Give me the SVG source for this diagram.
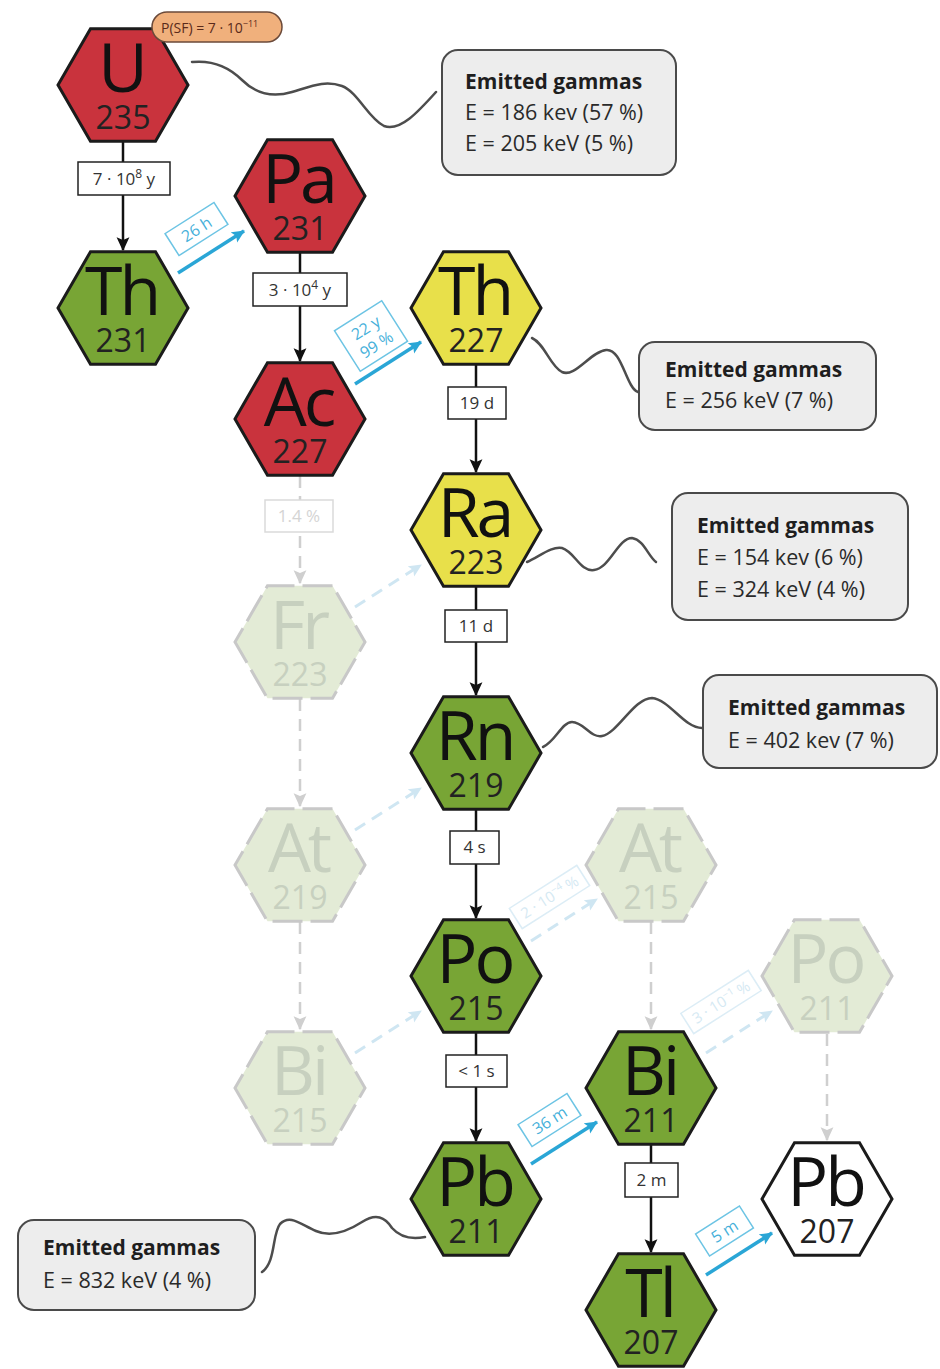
<svg xmlns="http://www.w3.org/2000/svg" xmlns:xlink="http://www.w3.org/1999/xlink" width="940" height="1369" viewBox="0 0 940 1369">
  <style>
    text { font-family: "Open Sans", "Noto Sans", "Liberation Sans", sans-serif; }
    .hex { stroke: #1b1b1b; stroke-width: 3; stroke-linejoin: miter; }
    .red .hex { fill: #c9333d; }
    .green .hex { fill: #78a535; }
    .yellow .hex { fill: #e8e04a; }
    .white .hex { fill: #ffffff; }
    .faded .hex { fill: #e3ebd6; stroke: #c8c8c8; stroke-dasharray: 30 8; stroke-dashoffset: 14; }
    .lbl { text-anchor: middle; }
    .sym { font-size: 68px; fill: #111; letter-spacing: -3px; }
    .mass { font-size: 32px; fill: #222; letter-spacing: 0; }
    .faded .sym, .faded .mass { fill: #c7d0bf; }
    .decay { stroke: #111; stroke-width: 2.5; fill: none; }
    .decay-faded { stroke: #cfcfcf; stroke-width: 2.5; fill: none; stroke-dasharray: 12 8; }
    .beta { stroke: #2aa6d6; stroke-width: 3.5; fill: none; }
    .beta-faded { stroke: #cfe6f2; stroke-width: 3; fill: none; stroke-dasharray: 12 8; }
    .tbox { fill: #fff; stroke: #222; stroke-width: 1.5; }
    .tbox-faded { fill: #fff; stroke: #dadada; stroke-width: 1.5; }
    .ttext { font-size: 17px; text-anchor: middle; fill: #333; }
    .ttext-faded { font-size: 17px; text-anchor: middle; fill: #d4d4d4; }
    .bbox { fill: #fff; stroke: #6cc4e4; stroke-width: 1.5; }
    .bbox-faded { fill: #fff; stroke: #dcedf6; stroke-width: 1.5; }
    .btext { font-size: 16px; text-anchor: middle; fill: #45b0da; }
    .btext-faded { font-size: 15px; text-anchor: middle; fill: #d5e9f3; }
    .gbox { fill: #ededed; stroke: #4a4a4a; stroke-width: 2; }
    .ghead { font-size: 21px; font-weight: bold; fill: #1e1e1e; }
    .gline { font-size: 21.5px; fill: #2a2a2a; }
    .wave { stroke: #4d4d4d; stroke-width: 2.5; fill: none; stroke-linecap: round; }
  </style>
  <defs>
    <polygon id="hex" points="-65,0 -32.5,-56.3 32.5,-56.3 65,0 32.5,56.3 -32.5,56.3"/>
    <marker id="ah" viewBox="0 0 12 12" refX="11" refY="6" markerWidth="14" markerHeight="14" markerUnits="userSpaceOnUse" orient="auto">
      <path d="M0,0.5 L12,6 L0,11.5 L2.5,6 z" fill="#111"/>
    </marker>
    <marker id="ah-faded" viewBox="0 0 12 12" refX="11" refY="6" markerWidth="14" markerHeight="14" markerUnits="userSpaceOnUse" orient="auto">
      <path d="M0,0.5 L12,6 L0,11.5 L2.5,6 z" fill="#cfcfcf"/>
    </marker>
    <marker id="ah-blue" viewBox="0 0 12 12" refX="11" refY="6" markerWidth="13" markerHeight="13" markerUnits="userSpaceOnUse" orient="auto">
      <path d="M0,0.5 L12,6 L0,11.5 L2.5,6 z" fill="#2aa6d6"/>
    </marker>
    <marker id="ah-blue-faded" viewBox="0 0 12 12" refX="11" refY="6" markerWidth="13" markerHeight="13" markerUnits="userSpaceOnUse" orient="auto">
      <path d="M0,0.5 L12,6 L0,11.5 L2.5,6 z" fill="#cfe6f2"/>
    </marker>
  </defs>

  <rect width="940" height="1369" fill="#ffffff"/>

  <!-- gamma emission squiggles and boxes -->
  <g id="gammas">
    <path class="wave" d="M192,62 C212,60 228,66 242,80 C256,94 272,98 292,92 C312,86 325,80 342,86 C358,92 368,118 384,126 C400,132 418,112 436,92"/>
    <path class="wave" d="M532,338 C545,344 550,366 562,372 C575,378 590,352 606,350 C622,348 626,388 638,392"/>
    <path class="wave" d="M527,562 C540,556 552,546 562,548 C575,552 580,572 594,570 C610,568 618,538 632,538 C644,540 648,556 656,562"/>
    <path class="wave" d="M543,747 C555,742 562,722 572,722 C584,722 590,738 602,736 C618,733 634,698 652,698 C670,700 684,728 702,728"/>
    <path class="wave" d="M425,1237 C410,1240 400,1237 392,1228 C385,1217 376,1213 362,1222 C348,1231 332,1238 316,1231 C300,1224 290,1214 280,1224 C272,1234 276,1262 262,1272"/>

    <g id="gamma-u235">
      <rect class="gbox" x="442" y="50" width="234" height="125" rx="16"/>
      <text class="ghead" x="465" y="89">Emitted gammas</text>
      <text class="gline" x="465" y="120">E = 186 kev (57 %)</text>
      <text class="gline" x="465" y="151">E = 205 keV (5 %)</text>
    </g>
    <g id="gamma-th227">
      <rect class="gbox" x="639" y="342" width="237" height="88" rx="16"/>
      <text class="ghead" x="665" y="377">Emitted gammas</text>
      <text class="gline" x="665" y="408">E = 256 keV (7 %)</text>
    </g>
    <g id="gamma-ra223">
      <rect class="gbox" x="672" y="493" width="236" height="127" rx="16"/>
      <text class="ghead" x="697" y="533">Emitted gammas</text>
      <text class="gline" x="697" y="565">E = 154 kev (6 %)</text>
      <text class="gline" x="697" y="597">E = 324 keV (4 %)</text>
    </g>
    <g id="gamma-rn219">
      <rect class="gbox" x="703" y="675" width="234" height="93" rx="16"/>
      <text class="ghead" x="728" y="715">Emitted gammas</text>
      <text class="gline" x="728" y="748">E = 402 kev (7 %)</text>
    </g>
    <g id="gamma-pb211">
      <rect class="gbox" x="18" y="1220" width="237" height="90" rx="16"/>
      <text class="ghead" x="43" y="1255">Emitted gammas</text>
      <text class="gline" x="43" y="1288">E = 832 keV (4 %)</text>
    </g>
  </g>

  <!-- decay connectors -->
  <g id="connectors">
    <!-- alpha decays (vertical) -->
    <line class="decay" x1="123" y1="141" x2="123" y2="250" marker-end="url(#ah)"/>
    <line class="decay" x1="300" y1="253" x2="300" y2="361" marker-end="url(#ah)"/>
    <line class="decay" x1="476" y1="364" x2="476" y2="472" marker-end="url(#ah)"/>
    <line class="decay" x1="476" y1="587" x2="476" y2="695" marker-end="url(#ah)"/>
    <line class="decay" x1="476" y1="810" x2="476" y2="918" marker-end="url(#ah)"/>
    <line class="decay" x1="476" y1="1033" x2="476" y2="1141" marker-end="url(#ah)"/>
    <line class="decay" x1="651" y1="1144" x2="651" y2="1252" marker-end="url(#ah)"/>

    <line class="decay-faded" x1="300" y1="476" x2="300" y2="583" marker-end="url(#ah-faded)"/>
    <line class="decay-faded" x1="300" y1="699" x2="300" y2="806" marker-end="url(#ah-faded)"/>
    <line class="decay-faded" x1="300" y1="922" x2="300" y2="1029" marker-end="url(#ah-faded)"/>
    <line class="decay-faded" x1="651" y1="922" x2="651" y2="1029" marker-end="url(#ah-faded)"/>
    <line class="decay-faded" x1="827" y1="1034" x2="827" y2="1140" marker-end="url(#ah-faded)"/>

    <!-- half-life labels -->
    <rect class="tbox" x="78" y="162" width="92" height="33"/>
    <text class="ttext" x="124" y="185">7 · 10<tspan dy="-7" font-size="12">8</tspan><tspan dy="7"> y</tspan></text>
    <rect class="tbox" x="253" y="273" width="94" height="33"/>
    <text class="ttext" x="300" y="296">3 · 10<tspan dy="-7" font-size="12">4</tspan><tspan dy="7"> y</tspan></text>
    <rect class="tbox" x="448" y="387" width="58" height="32"/>
    <text class="ttext" x="477" y="409">19 d</text>
    <rect class="tbox" x="445" y="610" width="62" height="32"/>
    <text class="ttext" x="476" y="632">11 d</text>
    <rect class="tbox" x="450" y="831" width="49" height="33"/>
    <text class="ttext" x="474.5" y="853">4 s</text>
    <rect class="tbox" x="446" y="1055" width="61" height="32"/>
    <text class="ttext" x="476.5" y="1077">&lt; 1 s</text>
    <rect class="tbox" x="625" y="1163" width="53" height="34"/>
    <text class="ttext" x="651.5" y="1186">2 m</text>
    <rect class="tbox-faded" x="265" y="500" width="68" height="32"/>
    <text class="ttext-faded" x="299" y="522">1.4 %</text>

    <!-- beta decays (diagonal) -->
    <line class="beta" x1="178" y1="273" x2="244" y2="231" marker-end="url(#ah-blue)"/>
    <line class="beta" x1="355" y1="384" x2="421" y2="342" marker-end="url(#ah-blue)"/>
    <line class="beta" x1="531" y1="1164" x2="597" y2="1122" marker-end="url(#ah-blue)"/>
    <line class="beta" x1="706" y1="1275" x2="772" y2="1233" marker-end="url(#ah-blue)"/>

    <line class="beta-faded" x1="355" y1="607" x2="421" y2="565" marker-end="url(#ah-blue-faded)"/>
    <line class="beta-faded" x1="355" y1="830" x2="421" y2="788" marker-end="url(#ah-blue-faded)"/>
    <line class="beta-faded" x1="355" y1="1053" x2="421" y2="1011" marker-end="url(#ah-blue-faded)"/>
    <line class="beta-faded" x1="531" y1="941" x2="597" y2="899" marker-end="url(#ah-blue-faded)"/>
    <line class="beta-faded" x1="706" y1="1053" x2="772" y2="1011" marker-end="url(#ah-blue-faded)"/>

    <g transform="translate(196.5,229) rotate(-32.5)">
      <rect class="bbox" x="-29" y="-13" width="58" height="26"/>
      <text class="btext" x="0" y="6">26 h</text>
    </g>
    <g transform="translate(371,336) rotate(-32.5)">
      <rect class="bbox" x="-28" y="-24" width="56" height="48"/>
      <text class="btext"><tspan x="0" y="-4">22 y</tspan><tspan x="0" y="16">99 %</tspan></text>
    </g>
    <g transform="translate(549.5,1120) rotate(-32.5)">
      <rect class="bbox" x="-29" y="-13" width="58" height="26"/>
      <text class="btext" x="0" y="6">36 m</text>
    </g>
    <g transform="translate(724.5,1231) rotate(-32.5)">
      <rect class="bbox" x="-26" y="-13" width="52" height="26"/>
      <text class="btext" x="0" y="6">5 m</text>
    </g>
    <g transform="translate(549.5,897) rotate(-32.5)">
      <rect class="bbox-faded" x="-40" y="-12" width="80" height="24"/>
      <text class="btext-faded" x="0" y="5.5">2 · 10<tspan dy="-6" font-size="10">−4</tspan><tspan dy="6"> %</tspan></text>
    </g>
    <g transform="translate(721,1002) rotate(-32.5)">
      <rect class="bbox-faded" x="-40" y="-12" width="80" height="24"/>
      <text class="btext-faded" x="0" y="5.5">3 · 10<tspan dy="-6" font-size="10">−1</tspan><tspan dy="6"> %</tspan></text>
    </g>
  </g>

  <!-- nuclides: symbol and mass number share one label -->
  <g id="n-u235" class="node red" transform="translate(123,85)">
    <use xlink:href="#hex" class="hex"/>
    <text class="lbl"><tspan class="sym" x="-1.5" y="7">U</tspan><tspan class="mass" x="0" y="44">235</tspan></text>
  </g>
  <g id="sf-label">
    <rect x="152" y="12" width="130" height="30" rx="15" fill="#f0b07c" stroke="#6b4a3a" stroke-width="1.5"/>
    <text x="161" y="33" font-size="14" fill="#5a2a1a">P(SF) = 7 · 10<tspan dy="-6" font-size="9">−11</tspan></text>
  </g>
  <g id="n-pa231" class="node red" transform="translate(300,196)">
    <use xlink:href="#hex" class="hex"/>
    <text class="lbl"><tspan class="sym" x="-1.5" y="7">Pa</tspan><tspan class="mass" x="0" y="44">231</tspan></text>
  </g>
  <g id="n-th231" class="node green" transform="translate(123,308)">
    <use xlink:href="#hex" class="hex"/>
    <text class="lbl"><tspan class="sym" x="-1.5" y="7">Th</tspan><tspan class="mass" x="0" y="44">231</tspan></text>
  </g>
  <g id="n-th227" class="node yellow" transform="translate(476,308)">
    <use xlink:href="#hex" class="hex"/>
    <text class="lbl"><tspan class="sym" x="-1.5" y="7">Th</tspan><tspan class="mass" x="0" y="44">227</tspan></text>
  </g>
  <g id="n-ac227" class="node red" transform="translate(300,419)">
    <use xlink:href="#hex" class="hex"/>
    <text class="lbl"><tspan class="sym" x="-1.5" y="7">Ac</tspan><tspan class="mass" x="0" y="44">227</tspan></text>
  </g>
  <g id="n-ra223" class="node yellow" transform="translate(476,530)">
    <use xlink:href="#hex" class="hex"/>
    <text class="lbl"><tspan class="sym" x="-1.5" y="7">Ra</tspan><tspan class="mass" x="0" y="44">223</tspan></text>
  </g>
  <g id="n-fr223" class="node faded" transform="translate(300,642)">
    <use xlink:href="#hex" class="hex"/>
    <text class="lbl"><tspan class="sym" x="-1.5" y="7">Fr</tspan><tspan class="mass" x="0" y="44">223</tspan></text>
  </g>
  <g id="n-rn219" class="node green" transform="translate(476,753)">
    <use xlink:href="#hex" class="hex"/>
    <text class="lbl"><tspan class="sym" x="-1.5" y="7">Rn</tspan><tspan class="mass" x="0" y="44">219</tspan></text>
  </g>
  <g id="n-at219" class="node faded" transform="translate(300,865)">
    <use xlink:href="#hex" class="hex"/>
    <text class="lbl"><tspan class="sym" x="-1.5" y="7">At</tspan><tspan class="mass" x="0" y="44">219</tspan></text>
  </g>
  <g id="n-at215" class="node faded" transform="translate(651,865)">
    <use xlink:href="#hex" class="hex"/>
    <text class="lbl"><tspan class="sym" x="-1.5" y="7">At</tspan><tspan class="mass" x="0" y="44">215</tspan></text>
  </g>
  <g id="n-po215" class="node green" transform="translate(476,976)">
    <use xlink:href="#hex" class="hex"/>
    <text class="lbl"><tspan class="sym" x="-1.5" y="7">Po</tspan><tspan class="mass" x="0" y="44">215</tspan></text>
  </g>
  <g id="n-po211" class="node faded" transform="translate(827,976)">
    <use xlink:href="#hex" class="hex"/>
    <text class="lbl"><tspan class="sym" x="-1.5" y="7">Po</tspan><tspan class="mass" x="0" y="44">211</tspan></text>
  </g>
  <g id="n-bi215" class="node faded" transform="translate(300,1088)">
    <use xlink:href="#hex" class="hex"/>
    <text class="lbl"><tspan class="sym" x="-1.5" y="7">Bi</tspan><tspan class="mass" x="0" y="44">215</tspan></text>
  </g>
  <g id="n-bi211" class="node green" transform="translate(651,1088)">
    <use xlink:href="#hex" class="hex"/>
    <text class="lbl"><tspan class="sym" x="-1.5" y="7">Bi</tspan><tspan class="mass" x="0" y="44">211</tspan></text>
  </g>
  <g id="n-pb211" class="node green" transform="translate(476,1199)">
    <use xlink:href="#hex" class="hex"/>
    <text class="lbl"><tspan class="sym" x="-1.5" y="7">Pb</tspan><tspan class="mass" x="0" y="44">211</tspan></text>
  </g>
  <g id="n-pb207" class="node white" transform="translate(827,1199)">
    <use xlink:href="#hex" class="hex"/>
    <text class="lbl"><tspan class="sym" x="-1.5" y="7">Pb</tspan><tspan class="mass" x="0" y="44">207</tspan></text>
  </g>
  <g id="n-tl207" class="node green" transform="translate(651,1310)">
    <use xlink:href="#hex" class="hex"/>
    <text class="lbl"><tspan class="sym" x="-1.5" y="7">Tl</tspan><tspan class="mass" x="0" y="44">207</tspan></text>
  </g>
</svg>
